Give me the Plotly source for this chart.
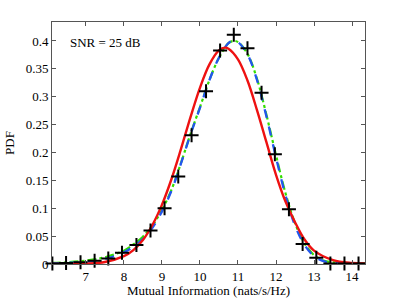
import plotly.graph_objects as go

# Simulated PDF markers
sim_x = [6.12, 6.48, 6.86, 7.23, 7.59, 7.95, 8.33, 8.70, 9.07, 9.43, 9.78, 10.16, 10.53,
         10.89, 11.25, 11.62, 11.97, 12.34, 12.70, 13.06, 13.43, 13.80, 14.17]
sim_y = [0.001, 0.002, 0.003, 0.006, 0.010, 0.020, 0.034, 0.060, 0.100, 0.157, 0.231, 0.310,
         0.383, 0.411, 0.387, 0.307, 0.197, 0.098, 0.036, 0.011, 0.001, 0.001, 0.001]

# Gaussian approximation (red)
red_x = [6.1, 6.5, 7.0, 7.5, 8.0, 8.25, 8.5, 8.75, 9.0, 9.25, 9.5, 9.75, 10.0, 10.25, 10.5,
         10.66, 10.75, 11.0, 11.25, 11.5, 11.75, 12.0, 12.25, 12.5, 12.75, 13.0, 13.5, 14.0, 14.34]
red_y = [0.0, 0.0001, 0.0007, 0.0035, 0.014, 0.025, 0.043, 0.070, 0.106, 0.152, 0.206, 0.263,
         0.316, 0.358, 0.383, 0.388, 0.386, 0.367, 0.329, 0.276, 0.218, 0.160, 0.112, 0.075,
         0.044, 0.024, 0.007, 0.002, 0.001]

# Analytical approximation 1 (blue dashed)
blue_x = [6.1, 6.5, 7.0, 7.5, 8.0, 8.25, 8.5, 8.75, 9.0, 9.25, 9.5, 9.75, 10.0, 10.25, 10.5,
          10.75, 10.88, 11.0, 11.25, 11.5, 11.75, 12.0, 12.25, 12.5, 12.75, 13.0, 13.25, 13.5, 14.0, 14.34]
blue_y = [0.001, 0.002, 0.004, 0.009, 0.021, 0.031, 0.045, 0.065, 0.094, 0.131, 0.180, 0.232,
          0.280, 0.330, 0.370, 0.396, 0.401, 0.398, 0.376, 0.330, 0.264, 0.191, 0.123, 0.069,
          0.034, 0.014, 0.005, 0.002, 0.001, 0.001]

# Analytical approximation 2 (green dash-dot)
green_x = [6.1, 6.5, 7.0, 7.5, 8.0, 8.25, 8.5, 8.75, 9.0, 9.25, 9.5, 9.75, 10.0, 10.25, 10.5,
           10.75, 10.88, 11.0, 11.25, 11.5, 11.75, 12.0, 12.25, 12.5, 12.75, 13.0, 13.25, 13.5, 14.0, 14.34]
green_y = [0.002, 0.003, 0.006, 0.012, 0.024, 0.035, 0.049, 0.069, 0.097, 0.133, 0.181, 0.233,
           0.281, 0.330, 0.370, 0.396, 0.400, 0.398, 0.377, 0.332, 0.267, 0.195, 0.127, 0.073,
           0.037, 0.016, 0.006, 0.003, 0.001, 0.001]

x_ticks = [7, 8, 9, 10, 11, 12, 13, 14]
y_ticks = [0, 0.05, 0.1, 0.15, 0.2, 0.25, 0.3, 0.35, 0.4]
y_labels = ["0", "0.05", "0.1", "0.15", "0.2", "0.25", "0.3", "0.35", "0.4"]

FONT = "Liberation Serif, Times New Roman, serif"

fig = go.Figure()
fig.add_trace(go.Scatter(x=green_x, y=green_y, mode="lines", line_shape="spline",
                         line=dict(color="#33dd00", width=2.2, dash="dashdot"), showlegend=False))
fig.add_trace(go.Scatter(x=blue_x, y=blue_y, mode="lines", line_shape="spline",
                         line=dict(color="#2255ee", width=2.3, dash="dash"), showlegend=False))
fig.add_trace(go.Scatter(x=red_x, y=red_y, mode="lines", line_shape="spline",
                         line=dict(color="#ee1111", width=2.4), showlegend=False))
fig.add_trace(go.Scatter(x=sim_x, y=sim_y, mode="markers",
                         marker=dict(symbol="cross-thin", size=10, color="black",
                                     line=dict(color="black", width=2)),
                         showlegend=False, cliponaxis=False))

axis_common = dict(showline=True, linecolor="#555555", linewidth=1, mirror="ticks",
                   ticks="inside", ticklen=4, tickcolor="#555555", showgrid=False,
                   zeroline=False, automargin=False,
                   tickfont=dict(family=FONT, size=13, color="black"))

fig.update_xaxes(range=[6.11, 14.34], tickvals=x_ticks,
                 title=dict(text="Mutual Information (nats/s/Hz)",
                            font=dict(family=FONT, size=13, color="black"), standoff=0),
                 **axis_common)
fig.update_yaxes(range=[0, 0.434], tickvals=y_ticks, ticktext=y_labels,
                 title=dict(text="PDF", font=dict(family=FONT, size=13, color="black"), standoff=8),
                 **axis_common)

fig.add_annotation(xref="paper", yref="paper", x=0.05, y=0.915, xanchor="left", yanchor="middle",
                   text="SNR = 25 dB", showarrow=False,
                   font=dict(family=FONT, size=13, color="black"))

fig.update_layout(width=403, height=298, margin=dict(l=52, r=38, t=22, b=34),
                  plot_bgcolor="white", paper_bgcolor="white")

fig.write_html("out.html", config={"displayModeBar": False, "staticPlot": True},
               post_script="document.body.style.margin='0';document.body.style.padding='0';")
